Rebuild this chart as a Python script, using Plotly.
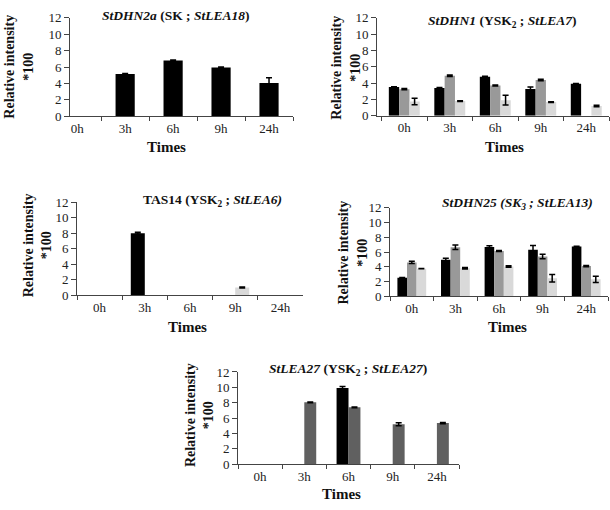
import plotly.graph_objects as go

times = ["0h", "3h", "6h", "9h", "24h"]
y_ticks = [0, 2, 4, 6, 8, 10, 12]

# None = no bar drawn at that time point
# Panel 1: StDHN2a
dhn2a_black = [None, 5.15, 6.8, 5.95, 4.05]
dhn2a_black_err = [None, 0.05, 0.05, 0.05, 0.65]

# Panel 2: StDHN1
dhn1_black = [3.5, 3.4, 4.77, 3.26, 3.9]
dhn1_black_err = [0.05, 0.05, 0.05, 0.25, 0.05]
dhn1_gray = [3.25, 4.89, 3.7, 4.37, None]
dhn1_gray_err = [0.08, 0.1, 0.05, 0.1, None]
dhn1_light = [1.75, 1.79, 1.9, 1.67, 1.19]
dhn1_light_err = [0.4, 0.05, 0.6, 0.05, 0.08]

# Panel 3: TAS14
tas14_black = [None, 8.0, None, None, None]
tas14_black_err = [None, 0.12, None, None, None]
tas14_light = [None, None, None, 1.0, None]
tas14_light_err = [None, None, None, 0.08, None]

# Panel 4: StDHN25
dhn25_black = [2.5, 4.95, 6.7, 6.3, 6.75]
dhn25_black_err = [0.03, 0.2, 0.15, 0.6, 0.05]
dhn25_gray = [4.6, 6.65, 6.15, 5.4, 4.1]
dhn25_gray_err = [0.15, 0.3, 0.08, 0.3, 0.08]
dhn25_light = [3.75, 3.8, 4.05, 2.45, 2.3]
dhn25_light_err = [0.03, 0.1, 0.1, 0.5, 0.42]

# Panel 5: StLEA27
lea27_black = [None, None, 9.9, None, None]
lea27_black_err = [None, None, 0.2, None, None]
lea27_gray = [None, 8.05, 7.4, 5.2, 5.35]
lea27_gray_err = [None, 0.05, 0.05, 0.2, 0.08]

BLACK = "#000000"
GRAY = "#999999"
LIGHT = "#d9d9d9"
DARK = "#606060"
FONT = "Liberation Serif"
W, H = 610, 510

fig = go.Figure()

def px_x(v):
    return v / W

def px_y(v):
    return 1 - v / H

panels = [
    dict(l=70, r=293, t=11, b=112.7, xr=[-0.15, 4.5],
         series=[(dhn2a_black, dhn2a_black_err, BLACK, -0.2, 0.4)]),
    dict(l=377, r=609, t=11, b=112, xr=[-0.6, 4.5],
         series=[(dhn1_black, dhn1_black_err, BLACK, -0.34, 0.227),
                 (dhn1_gray, dhn1_gray_err, GRAY, -0.113, 0.227),
                 (dhn1_light, dhn1_light_err, LIGHT, 0.113, 0.227)]),
    dict(l=77, r=303, t=201, b=297, xr=[-0.5, 4.5],
         series=[(tas14_black, tas14_black_err, BLACK, -0.31, 0.31),
                 (tas14_light, tas14_light_err, LIGHT, 0.0, 0.31)]),
    dict(l=390, r=608, t=207, b=298, xr=[-0.5, 4.5],
         series=[(dhn25_black, dhn25_black_err, BLACK, -0.33, 0.22),
                 (dhn25_gray, dhn25_gray_err, GRAY, -0.11, 0.22),
                 (dhn25_light, dhn25_light_err, LIGHT, 0.11, 0.22)]),
    dict(l=238, r=459, t=376, b=471, xr=[-0.5, 4.5],
         series=[(lea27_black, lea27_black_err, BLACK, -0.27, 0.27),
                 (lea27_gray, lea27_gray_err, DARK, 0.0, 0.27)]),
]

layout_axes = {}
for i, p in enumerate(panels, start=1):
    xa = "x" if i == 1 else f"x{i}"
    ya = "y" if i == 1 else f"y{i}"
    for vals, errs, color, off, wd in p["series"]:
        fig.add_trace(go.Bar(
            x=times, y=vals, xaxis=xa, yaxis=ya,
            marker=dict(color=color, line=dict(width=0)),
            offset=off, width=wd,
            error_y=dict(type="data", array=errs, visible=True,
                         color="#000000", thickness=1.5, width=3),
            showlegend=False, hoverinfo="skip",
        ))
    xkey = "xaxis" if i == 1 else f"xaxis{i}"
    ykey = "yaxis" if i == 1 else f"yaxis{i}"
    layout_axes[xkey] = dict(
        domain=[px_x(p["l"]), px_x(p["r"])], anchor=ya,
        type="category", categoryorder="array", categoryarray=times,
        range=p["xr"], showline=True, linecolor="#444444", linewidth=1,
        ticks="outside", tickson="boundaries", ticklen=4, tickcolor="#444444",
        tickfont=dict(family=FONT, size=13, color="#222222"),
        showgrid=False, zeroline=False, fixedrange=True,
    )
    layout_axes[ykey] = dict(
        domain=[px_y(p["b"]), px_y(p["t"])], anchor=xa,
        range=[0, 12], tickvals=y_ticks, showline=True, linecolor="#444444",
        linewidth=1, ticks="outside", ticklen=5, tickcolor="#444444",
        tickfont=dict(family=FONT, size=13, color="#222222"),
        showgrid=False, zeroline=False, fixedrange=True,
    )

titles = [
    ("<b><i>StDHN2a</i> (SK ; <i>StLEA18</i>)</b>", 175, 9),
    ("<b><i>StDHN1</i> (YSK<sub>2</sub> ; <i>StLEA7</i>)</b>", 502, 15),
    ("<b>TAS14 (YSK<sub>2</sub> ; <i>StLEA6)</i></b>", 212, 199),
    ("<b><i>StDHN25 (SK<sub>3</sub> ; StLEA13)</i></b>", 517, 202),
    ("<b><i>StLEA27</i> (YSK<sub>2</sub> ; <i>StLEA27</i>)</b>", 348, 373),
]
ytitles = [(18.5, 62), (345.5, 62), (37.5, 246), (353, 253), (199.5, 421)]
xtitles = [(166, 144), (504, 144), (187, 330), (507, 330), (341, 502)]

ann = []
for text, x, y in titles:
    ann.append(dict(text=text, x=px_x(x), y=px_y(y), xref="paper", yref="paper",
                    xanchor="center", yanchor="middle", showarrow=False,
                    font=dict(family=FONT, size=13.5, color="#111111")))
for x, y in ytitles:
    ann.append(dict(text="<b>Relative intensity</b><br><b>*100</b>", x=px_x(x), y=px_y(y),
                    xref="paper", yref="paper", xanchor="center", yanchor="middle",
                    textangle=-90, showarrow=False,
                    font=dict(family=FONT, size=14, color="#111111")))
for x, y in xtitles:
    ann.append(dict(text="<b>Times</b>", x=px_x(x), y=px_y(y), xref="paper", yref="paper",
                    xanchor="center", yanchor="middle", showarrow=False,
                    font=dict(family=FONT, size=15, color="#111111")))

fig.update_layout(
    width=W, height=H, margin=dict(l=0, r=0, t=0, b=0),
    paper_bgcolor="white", plot_bgcolor="white",
    barmode="overlay", annotations=ann, showlegend=False,
    **layout_axes,
)

fig.write_html("out.html", config={"displayModeBar": False},
               post_script="document.body.style.margin='0';document.body.style.overflow='hidden';")
